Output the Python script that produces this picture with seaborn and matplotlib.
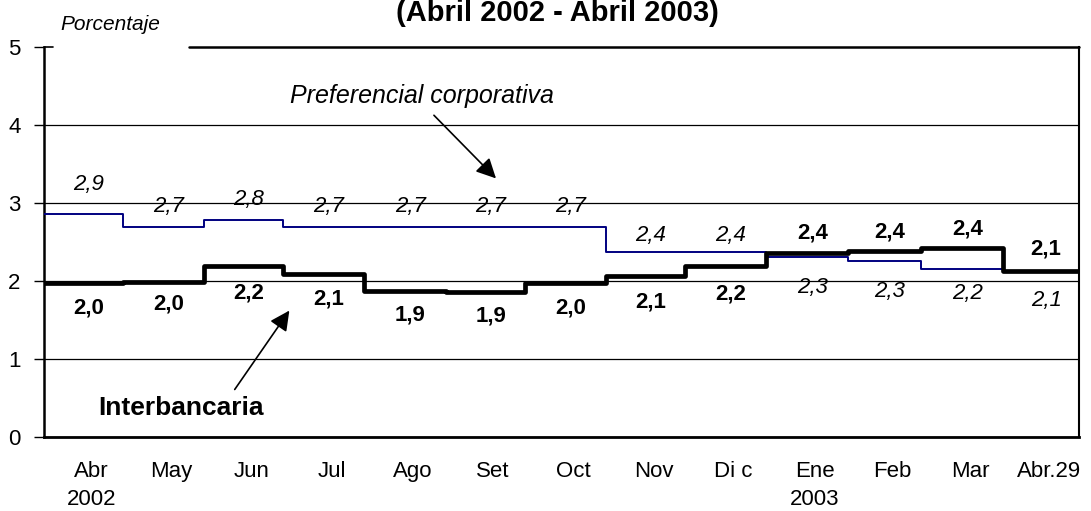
import pandas as pd
import matplotlib
matplotlib.use("Agg")
import matplotlib.pyplot as plt
import seaborn as sns

# Tasas promedio mensuales (porcentaje), abril 2002 - abril 2003
meses = ["Abr\n2002", "May", "Jun", "Jul", "Ago", "Set", "Oct",
         "Nov", "Di c", "Ene\n2003", "Feb", "Mar", "Abr.29"]
inicio_mes = ["2002-04-01", "2002-05-01", "2002-06-01", "2002-07-01",
              "2002-08-01", "2002-09-01", "2002-10-01", "2002-11-01",
              "2002-12-01", "2003-01-01", "2003-02-01", "2003-03-01",
              "2003-04-01"]
fin_serie = "2003-04-30"
preferencial = [2.86, 2.69, 2.78, 2.69, 2.69, 2.69, 2.69,
                2.37, 2.37, 2.31, 2.26, 2.16, 2.12]
interbancaria = [1.97, 1.99, 2.19, 2.09, 1.87, 1.86, 1.97,
                 2.07, 2.19, 2.36, 2.38, 2.42, 2.13]

# Days since the first month start
fechas = pd.to_datetime(inicio_mes + [fin_serie])
dias = (fechas - fechas[0]).days.tolist()
centros = [(a + b) / 2 for a, b in zip(dias[:-1], dias[1:])]

df_pref = pd.DataFrame({"dia": dias, "tasa": preferencial + preferencial[-1:]})
df_inter = pd.DataFrame({"dia": dias, "tasa": interbancaria + interbancaria[-1:]})

sns.set_theme(style="white")
plt.rcParams["font.family"] = ["Liberation Sans", "DejaVu Sans"]
plt.rcParams["text.color"] = "black"
plt.rcParams["xtick.color"] = "black"
plt.rcParams["ytick.color"] = "black"

fig = plt.figure(figsize=(10.91, 5.11), dpi=100)
ax = fig.add_axes([44 / 1091, 74 / 511, 1035 / 1091, 390 / 511])

sns.lineplot(data=df_pref, x="dia", y="tasa", color="#000080", linewidth=1.4,
             drawstyle="steps-post", estimator=None, ax=ax, zorder=3)
sns.lineplot(data=df_inter, x="dia", y="tasa", color="black", linewidth=3.4,
             drawstyle="steps-post", estimator=None, ax=ax, zorder=4)

ax.set_xlim(dias[0], dias[-1])
ax.set_ylim(0, 5)
ax.set_xlabel("")
ax.set_ylabel("")

# value labels (offsets in points)
off_pref = [21, 15, 15, 15, 15, 15, 15, 12, 12, -22, -22, -18, -21]
off_inter = [-18, -16, -19, -18, -17, -17, -18, -19, -20, 14, 14, 14, 16]
for i in range(len(meses)):
    ax.annotate(f"{preferencial[i]:.1f}".replace(".", ","),
                (centros[i] + 2, preferencial[i]), xytext=(0, off_pref[i]),
                textcoords="offset points", ha="center", va="center",
                fontsize=16, style="italic", color="black")
    ax.annotate(f"{interbancaria[i]:.1f}".replace(".", ","),
                (centros[i] + 2, interbancaria[i]), xytext=(0, off_inter[i]),
                textcoords="offset points", ha="center", va="center",
                fontsize=16, weight="bold", color="black")

# series names with arrows
ax.annotate("", xy=(172.8, 3.29), xytext=(147.7, 4.15),
            arrowprops=dict(arrowstyle="-|>", color="black", lw=1.2,
                            mutation_scale=30))
ax.text(143.9, 4.37, "Preferencial corporativa", ha="center", va="center",
        fontsize=18, style="italic", color="black")
ax.annotate("", xy=(94.0, 1.65), xytext=(72.0, 0.58),
            arrowprops=dict(arrowstyle="-|>", color="black", lw=1.2,
                            mutation_scale=30))
ax.text(52.0, 0.37, "Interbancaria", ha="center", va="center",
        fontsize=19, weight="bold", color="black")

# axes styling
ax.set_yticks(range(6))
ax.set_yticklabels([str(v) for v in range(6)], fontsize=16)
ax.set_xticks([c + 3 for c in centros])
ax.set_xticklabels(meses, fontsize=16, linespacing=1.45, va="top")
ax.tick_params(axis="y", left=True, length=7, width=1, pad=10, color="black",
               labelcolor="black")
ax.tick_params(axis="x", bottom=False, length=0, pad=17, labelcolor="black")
ax.yaxis.grid(True, color="black", linewidth=0.9)
ax.yaxis.get_gridlines()[5].set_visible(False)
ax.set_axisbelow(True)

ax.spines["top"].set_visible(False)
for s in ["left", "bottom", "right"]:
    ax.spines[s].set_visible(True)
    ax.spines[s].set_color("black")
ax.spines["left"].set_linewidth(1.8)
ax.spines["bottom"].set_linewidth(2.0)
ax.spines["right"].set_linewidth(1.5)
# top border interrupted behind the unit label
ax.plot([0, 0.009], [1, 1], transform=ax.transAxes, color="black", lw=1.2, clip_on=False)
ax.plot([0.140, 1], [1, 1], transform=ax.transAxes, color="black", lw=1.8, clip_on=False)

fig.text(60 / 1091, 1 - 24 / 511, "Porcentaje", ha="left", va="center",
         fontsize=15, style="italic", color="black")
fig.text(557 / 1091, 1 - 13 / 511, "(Abril 2002 - Abril 2003)", ha="center",
         va="center", fontsize=21, weight="bold", color="black")

fig.savefig("out.png", dpi=100)
